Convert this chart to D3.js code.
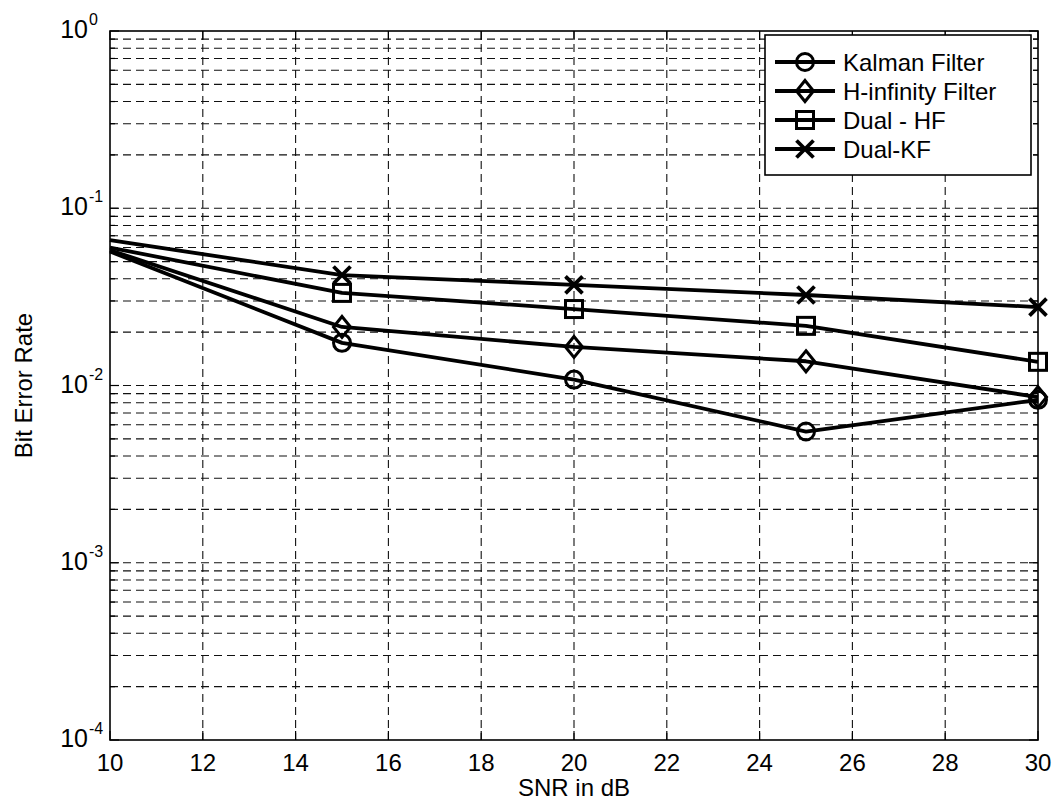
<!DOCTYPE html>
<html>
<head>
<meta charset="utf-8">
<script src="https://cdn.jsdelivr.net/npm/d3@7"></script>
<style>
  body { margin: 0; background: #fff; }
  svg text { font-family: "Liberation Sans", Arial, sans-serif; fill: #000; }
</style>
</head>
<body>
<svg id="chart" width="1057" height="812"></svg>
<script>
// data
const snr = [10, 15, 20, 25, 30];
const kalman = [0.057, 0.0174, 0.0108, 0.0055, 0.0083];
const hinf = [0.058, 0.0214, 0.0165, 0.0137, 0.0086];
const dualHF = [0.060, 0.0333, 0.027, 0.0217, 0.0136];
const dualKF = [0.066, 0.042, 0.037, 0.0324, 0.0277];
const seriesNames = ["Kalman Filter", "H-infinity Filter", "Dual - HF", "Dual-KF"];
const seriesMarkers = ["circle", "diamond", "square", "cross"];
const xTicks = d3.range(10, 31, 2);
const yDecades = [-4, -3, -2, -1, 0];

const svg = d3.select("#chart");
const m = { left: 110, right: 1038, top: 31, bottom: 740 };

const x = d3.scaleLinear().domain([10, 30]).range([m.left, m.right]);
const y = d3.scaleLog().domain([1e-4, 1]).range([m.bottom, m.top]);

const series = [kalman, hinf, dualHF, dualKF].map((vals, i) => ({
    name: seriesNames[i],
    marker: seriesMarkers[i],
    points: snr.map((s, j) => ({ x: s, y: vals[j] }))
}));

// grid
const grid = svg.append("g")
    .attr("stroke", "#111")
    .attr("stroke-width", 1.1)
    .attr("stroke-dasharray", "8,5");

xTicks.slice(1, -1).forEach(t => {
    grid.append("line")
        .attr("x1", x(t)).attr("x2", x(t))
        .attr("y1", m.top).attr("y2", m.bottom);
});

const yGridVals = [];
yDecades.forEach(e => {
    if (e < 0) {
        for (let k = 1; k <= 9; k++) yGridVals.push(k * Math.pow(10, e));
    }
});
yGridVals.filter(v => v > 1e-4).forEach(v => {
    grid.append("line")
        .attr("x1", m.left).attr("x2", m.right)
        .attr("y1", y(v)).attr("y2", y(v));
});

// axes box
svg.append("rect")
    .attr("x", m.left).attr("y", m.top)
    .attr("width", m.right - m.left).attr("height", m.bottom - m.top)
    .attr("fill", "none").attr("stroke", "#000").attr("stroke-width", 1.6);

// ticks
const ticks = svg.append("g").attr("stroke", "#000").attr("stroke-width", 1.2);
xTicks.forEach(t => {
    ticks.append("line").attr("x1", x(t)).attr("x2", x(t)).attr("y1", m.bottom).attr("y2", m.bottom - 9);
    ticks.append("line").attr("x1", x(t)).attr("x2", x(t)).attr("y1", m.top).attr("y2", m.top + 9);
});
yGridVals.concat([1]).forEach(v => {
    const major = Math.abs(Math.log10(v) - Math.round(Math.log10(v))) < 1e-9;
    const len = major ? 9 : 5;
    ticks.append("line").attr("x1", m.left).attr("x2", m.left + len).attr("y1", y(v)).attr("y2", y(v));
    ticks.append("line").attr("x1", m.right).attr("x2", m.right - len).attr("y1", y(v)).attr("y2", y(v));
});

// tick labels
svg.append("g").selectAll("text")
    .data(xTicks)
    .join("text")
    .attr("x", d => x(d))
    .attr("y", m.bottom + 31)
    .attr("text-anchor", "middle")
    .style("font-size", "24px")
    .text(d => d);

const yl = svg.append("g").selectAll("g")
    .data(yDecades)
    .join("g")
    .attr("transform", d => `translate(${m.left - 22}, ${y(Math.pow(10, d))})`);
yl.append("text")
    .attr("x", 0)
    .attr("y", 7)
    .attr("text-anchor", "end")
    .style("font-size", "25px")
    .text("10");
yl.append("text")
    .attr("x", 1)
    .attr("y", -6)
    .attr("text-anchor", "start")
    .style("font-size", "16px")
    .text(d => d);

// axis titles
svg.append("text")
    .attr("x", (m.left + m.right) / 2)
    .attr("y", 796)
    .attr("text-anchor", "middle")
    .style("font-size", "24px")
    .text("SNR in dB");

svg.append("text")
    .attr("transform", `translate(32, ${(m.top + m.bottom) / 2}) rotate(-90)`)
    .attr("text-anchor", "middle")
    .style("font-size", "24px")
    .text("Bit Error Rate");

// lines
const line = d3.line().x(d => x(d.x)).y(d => y(d.y));
const plot = svg.append("g");

function drawMarker(g, type, cx, cy) {
    const s = 8.5;
    if (type === "circle") {
        g.append("circle").attr("cx", cx).attr("cy", cy).attr("r", s)
            .attr("fill", "none").attr("stroke", "#000").attr("stroke-width", 3);
    } else if (type === "diamond") {
        g.append("path").attr("d", `M${cx},${cy - s - 2}L${cx + s},${cy}L${cx},${cy + s + 2}L${cx - s},${cy}Z`)
            .attr("fill", "none").attr("stroke", "#000").attr("stroke-width", 3);
    } else if (type === "square") {
        g.append("rect").attr("x", cx - s).attr("y", cy - s).attr("width", 2 * s).attr("height", 2 * s)
            .attr("fill", "none").attr("stroke", "#000").attr("stroke-width", 3);
    } else {
        g.append("path").attr("d", `M${cx - s},${cy - s}L${cx + s},${cy + s}M${cx - s},${cy + s}L${cx + s},${cy - s}`)
            .attr("stroke", "#000").attr("stroke-width", 3.8);
    }
}

series.forEach(s => {
    plot.append("path")
        .datum(s.points)
        .attr("d", line)
        .attr("fill", "none")
        .attr("stroke", "#000")
        .attr("stroke-width", 3.8)
        .attr("stroke-linejoin", "round");
    s.points.filter(p => p.x > 10).forEach(p => drawMarker(plot, s.marker, x(p.x), y(p.y)));
});

// legend
const lg = svg.append("g");
const lgX = 765, lgY = 35, lgW = 1031 - 765, rowH = 29;
lg.append("rect")
    .attr("x", lgX).attr("y", lgY)
    .attr("width", lgW).attr("height", rowH * series.length + 24)
    .attr("fill", "#fff").attr("stroke", "#000").attr("stroke-width", 1.6);

series.forEach((s, i) => {
    const cy = lgY + 27 + i * rowH;
    lg.append("line")
        .attr("x1", lgX + 10).attr("x2", lgX + 70)
        .attr("y1", cy).attr("y2", cy)
        .attr("stroke", "#000").attr("stroke-width", 3.8);
    drawMarker(lg, s.marker, lgX + 40, cy);
    lg.append("text")
        .attr("x", lgX + 78)
        .attr("y", cy + 8.5)
        .style("font-size", "24px")
        .text(s.name);
});
</script>
</body>
</html>
